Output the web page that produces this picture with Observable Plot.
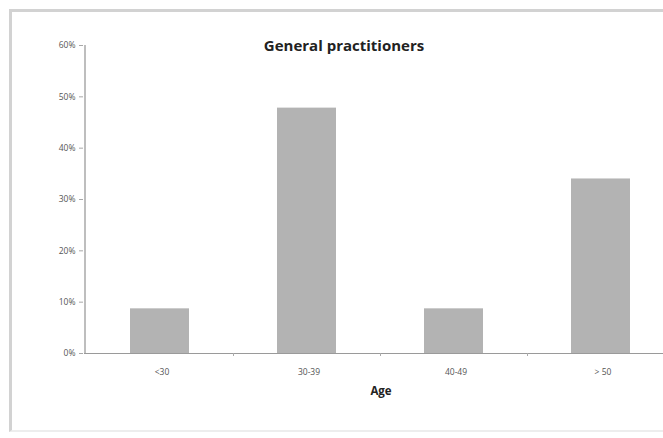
<!DOCTYPE html>
<html>
<head>
<meta charset="utf-8">
<script src="https://cdn.jsdelivr.net/npm/d3@7"></script>
<script src="https://cdn.jsdelivr.net/npm/@observablehq/plot@0.6"></script>
<style>
  html, body { margin: 0; padding: 0; background: #fff; overflow: hidden; }
  #wrap { position: relative; width: 663px; height: 438px; overflow: hidden; }
  #frame { position: absolute; left: 9px; top: 9px; width: 1000px; height: 423px;
           border-left: 3px solid #d2d2d2; border-top: 3px solid #d2d2d2;
           border-bottom: 2px solid #ededed; border-right: none; box-sizing: border-box; }
  #chart { position: absolute; left: 0; top: 0; }
</style>
</head>
<body>
<div id="wrap"><div id="frame"></div><div id="chart"></div></div>
<script>
const categories = ["<30", "30-39", "40-49", "> 50"];
const shares = [8.7, 47.8, 8.7, 34.0];
const yTicks = [0, 10, 20, 30, 40, 50, 60];
const title = "General practitioners";
const xLabel = "Age";

const data = categories.map((c, i) => ({age: c, share: shares[i]}));
const xRange = [86, 674];
const step = (xRange[1] - xRange[0]) / categories.length;
const font = "Open Sans, Lato, sans-serif";

const chart = Plot.plot({
  width: 663,
  height: 438,
  marginLeft: 84,
  marginRight: 0,
  marginTop: 45,
  marginBottom: 85,
  style: {background: "transparent", fontFamily: font},
  x: {domain: categories, range: xRange, paddingInner: 0.6, paddingOuter: 0.3, label: null},
  y: {domain: [0, 60], label: null},
  marks: [
    Plot.barY(data, {x: "age", y: "share", fill: "#b3b3b3"}),
    Plot.ruleY([0], {stroke: "#9a9a9a", strokeWidth: 1.2}),
    Plot.ruleX([0], {x: () => categories[0], dx: -step / 2 - 1.5, y1: 0, y2: 60, stroke: "#a8a8a8", strokeWidth: 1.5}),
    Plot.ruleX(categories.slice(1), {x: d => d, dx: -step / 2, y1: 0, y2: 0, insetBottom: -3, stroke: "#aaaaaa"}),
    Plot.axisY(yTicks, {tickSize: 4, tickPadding: 4, stroke: "#a8a8a8", tickFormat: d => d + "%", fontSize: 8.5, fill: "#555", dx: -1}),
    Plot.axisX({tickSize: 0, tickPadding: 15, fontSize: 8.5, fill: "#555", dx: 2, label: null}),
    Plot.text([title], {frameAnchor: "top", dx: -30, dy: -5, text: d => d, fontSize: 15, fontWeight: "bold", fill: "#222", fontFamily: font}),
    Plot.text([xLabel], {frameAnchor: "bottom", dx: 7, dy: 41, text: d => d, fontSize: 11.5, fontWeight: "bold", fill: "#222", fontFamily: font})
  ]
});
document.getElementById("chart").appendChild(chart);
</script>
</body>
</html>
